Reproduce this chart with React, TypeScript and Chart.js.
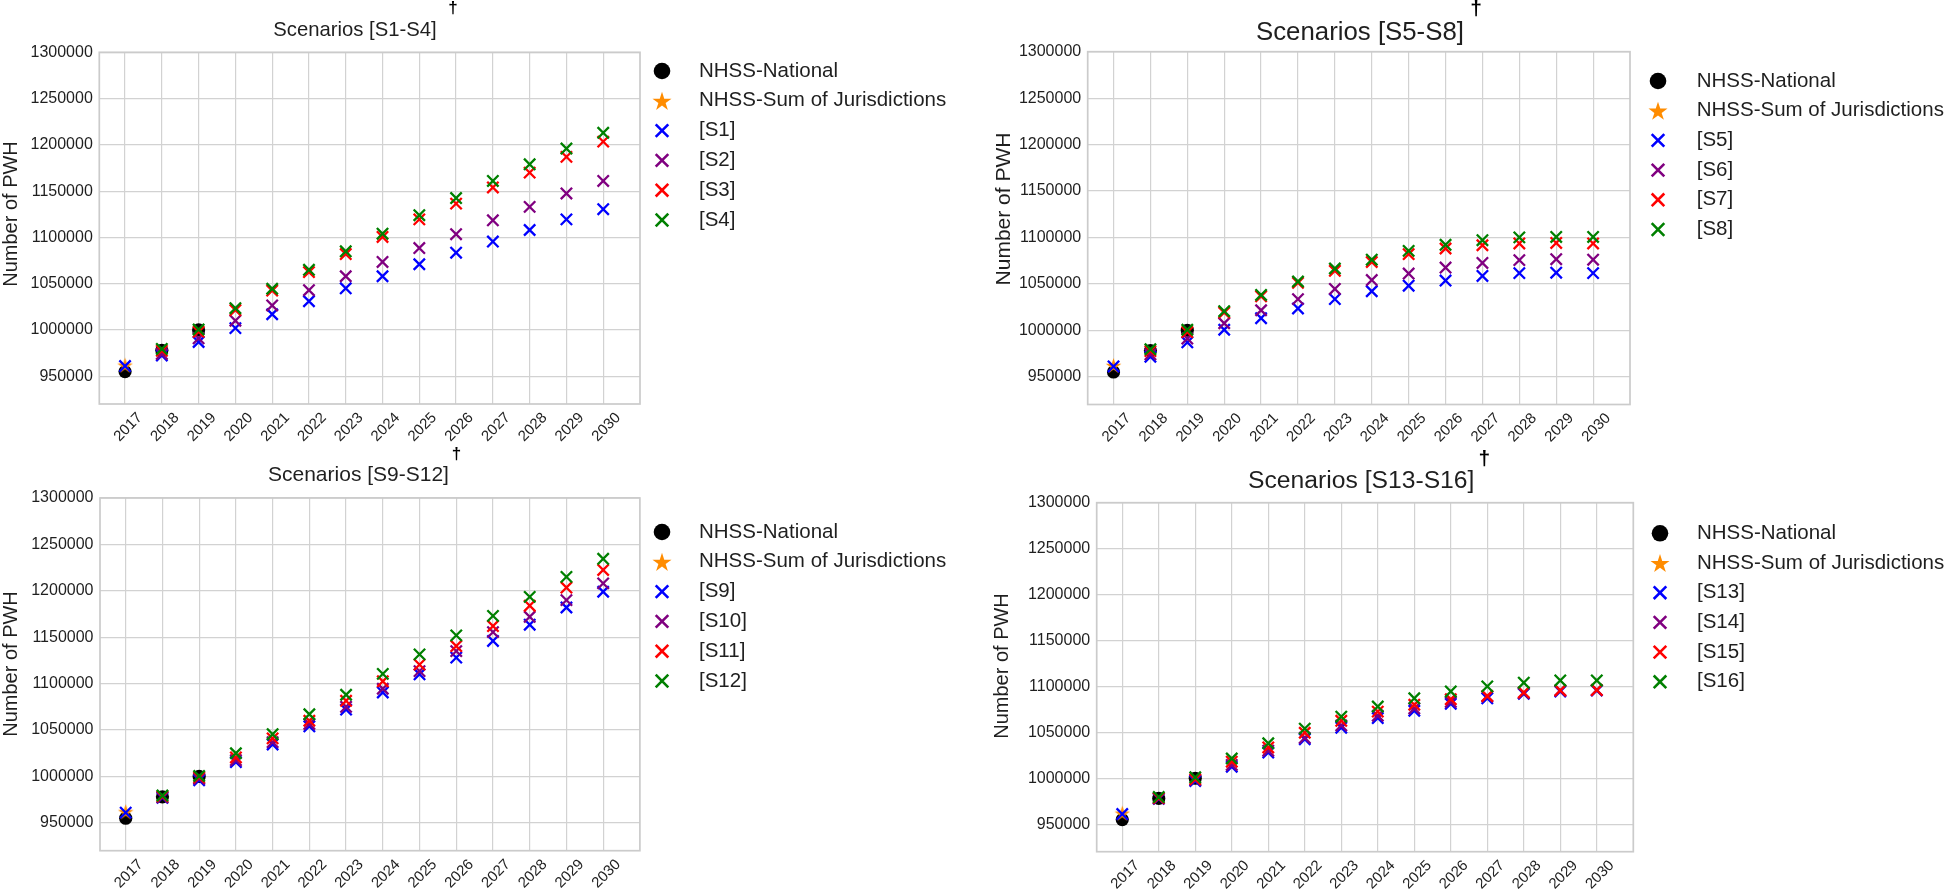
import React, { useEffect, useRef } from 'react';
import { Chart, registerables } from 'chart.js';

Chart.register(...registerables);

// ---------- data ----------
const YEARS = [2017, 2018, 2019, 2020, 2021, 2022, 2023, 2024, 2025, 2026, 2027, 2028, 2029, 2030];
const Y_TICKS = [950000, 1000000, 1050000, 1100000, 1150000, 1200000, 1250000, 1300000];
const Y_MIN = 920000;
const Y_MAX = 1300000;
const X_MIN = 2016.3;
const X_MAX = 2031;

const NATIONAL_YEARS = [2017, 2018, 2019];
const NATIONAL = [955000, 978000, 1000000];
const SUM_YEARS = [2017];
const SUM_JURIS = [962000];

const PANEL_TITLES = ['Scenarios [S1-S4]', 'Scenarios [S5-S8]', 'Scenarios [S9-S12]', 'Scenarios [S13-S16]'];
const SCENARIO_LABELS = [
  ['[S1]', '[S2]', '[S3]', '[S4]'],
  ['[S5]', '[S6]', '[S7]', '[S8]'],
  ['[S9]', '[S10]', '[S11]', '[S12]'],
  ['[S13]', '[S14]', '[S15]', '[S16]'],
];
const Y_TITLE = 'Number of PWH';
const NATIONAL_LABEL = 'NHSS-National';
const SUM_LABEL = 'NHSS-Sum of Jurisdictions';

const S1 = [961000, 972500, 987000, 1002000, 1017000, 1031000, 1045000, 1058000, 1071000, 1083500, 1095500, 1108000, 1119500, 1130500];
const S2 = [null, 974000, 991000, 1010000, 1026500, 1043000, 1058000, 1073500, 1088500, 1103500, 1118500, 1133000, 1147500, 1161000];
const S3 = [null, 977500, 998000, 1021500, 1042500, 1062500, 1082000, 1100500, 1119500, 1136500, 1154000, 1170000, 1187000, 1203500];
const S4 = [null, 979500, 1000500, 1023500, 1044500, 1065000, 1085000, 1104000, 1124000, 1142500, 1161000, 1179000, 1196000, 1213000];

const S5 = [961000, 971500, 987000, 1000500, 1013000, 1023500, 1033500, 1042000, 1048000, 1053500, 1058500, 1061500, 1062000, 1061500];
const S6 = [null, 974000, 991000, 1007500, 1021500, 1033500, 1044500, 1054000, 1061000, 1067500, 1072500, 1075500, 1076500, 1076000];
const S7 = [null, 977500, 998000, 1019000, 1036500, 1051000, 1064000, 1073500, 1082000, 1088000, 1091500, 1093500, 1094000, 1093500];
const S8 = [null, 979500, 1000500, 1020500, 1038000, 1052500, 1066500, 1076000, 1085500, 1092000, 1097000, 1100000, 1100500, 1100500];

const S9 = [961000, 977000, 996000, 1015500, 1034500, 1054000, 1072000, 1090500, 1110000, 1128000, 1146000, 1163500, 1182000, 1199000];
const S10 = [null, 977500, 997500, 1017500, 1037000, 1056500, 1075000, 1094500, 1113500, 1135000, 1155500, 1172000, 1190000, 1208000];
const S11 = [null, 978500, 999000, 1020500, 1041000, 1060000, 1081500, 1102500, 1120500, 1140500, 1162000, 1184000, 1203500, 1222500];
const S12 = [null, 979500, 1000500, 1025000, 1045500, 1067000, 1088000, 1110500, 1131500, 1152000, 1173000, 1193500, 1215000, 1234500];

const S13 = [961000, 977500, 997000, 1012500, 1028000, 1042500, 1055000, 1065500, 1073500, 1081000, 1087000, 1092000, 1094500, 1095500];
const S14 = [null, 978000, 998000, 1014500, 1030000, 1044000, 1057500, 1068000, 1076000, 1083000, 1089000, 1092500, 1095500, 1096000];
const S15 = [null, 978500, 999000, 1018000, 1033500, 1049500, 1062500, 1072500, 1080000, 1086000, 1089500, 1093500, 1095500, 1096000];
const S16 = [null, 979500, 1001000, 1021500, 1038000, 1054000, 1067000, 1078000, 1087000, 1094500, 1100000, 1104000, 1106500, 1106500];

const PANEL_SERIES = [
  [S1, S2, S3, S4],
  [S5, S6, S7, S8],
  [S9, S10, S11, S12],
  [S13, S14, S15, S16],
];

// ---------- styles / layout ----------
const W = 1944;
const H = 893;
const FONT = '"Liberation Sans", Arial, Helvetica, sans-serif';
const TEXT = '#1f1f1f';
const GRID = '#d2d2d2';
const BORDER = '#cbcbcb';
const SCEN_COLORS = ['#0000ff', '#800080', '#ff0000', '#008000'];
const ORANGE = '#ff8c00';
const YW = 80;
const XH = 50;

const LAYOUT = [
  {
    plot: { left: 99.3, top: 52.3, right: 640, bottom: 404 },
    title: { x: 273.3, y: 35.7, size: 20.3 },
    dagger: { x: 453, y: 14.5, size: 17 },
    ytitle: { x: 11, y: 214, size: 20 },
    legend: { mx: 662, tx: 699, y: 71, dy: 29.8 },
  },
  {
    plot: { left: 1087.7, top: 51.7, right: 1630, bottom: 404.5 },
    title: { x: 1256, y: 40, size: 25.8 },
    dagger: { x: 1476, y: 17.5, size: 21 },
    ytitle: { x: 1004, y: 209, size: 21 },
    legend: { mx: 1658, tx: 1696.7, y: 81, dy: 29.7 },
  },
  {
    plot: { left: 100, top: 498, right: 639.9, bottom: 850.7 },
    title: { x: 268, y: 480.7, size: 21 },
    dagger: { x: 456.6, y: 461, size: 17 },
    ytitle: { x: 11, y: 664, size: 20 },
    legend: { mx: 662, tx: 699, y: 532, dy: 29.8 },
  },
  {
    plot: { left: 1096.7, top: 502.7, right: 1633.3, bottom: 851.7 },
    title: { x: 1248, y: 488.3, size: 24.7 },
    dagger: { x: 1484.3, y: 467, size: 21 },
    ytitle: { x: 1002.5, y: 666, size: 20 },
    legend: { mx: 1660, tx: 1697, y: 533.3, dy: 29.7 },
  },
];

function starPath(ctx: CanvasRenderingContext2D, cx: number, cy: number, R: number) {
  const r = R * 0.382;
  ctx.beginPath();
  for (let i = 0; i < 10; i++) {
    const a = -Math.PI / 2 + (i * Math.PI) / 5;
    const rr = i % 2 === 0 ? R : r;
    const px = cx + Math.cos(a) * rr;
    const py = cy + Math.sin(a) * rr;
    if (i === 0) ctx.moveTo(px, py);
    else ctx.lineTo(px, py);
  }
  ctx.closePath();
}

function makeStar(R: number, color: string): HTMLCanvasElement {
  const c = document.createElement('canvas');
  const s = Math.ceil(2 * R + 2);
  c.width = s;
  c.height = s;
  const ctx = c.getContext('2d')!;
  starPath(ctx, s / 2, s / 2 + R * 0.1, R);
  ctx.fillStyle = color;
  ctx.fill();
  return c;
}

function toPoints(xs: number[], ys: (number | null)[]) {
  const out: { x: number; y: number }[] = [];
  xs.forEach((x, i) => {
    const y = ys[i];
    if (y !== null && y !== undefined) out.push({ x, y });
  });
  return out;
}

function Panel({ idx }: { idx: number }) {
  const ref = useRef<HTMLCanvasElement | null>(null);
  useEffect(() => {
    const canvas = ref.current;
    if (!canvas) return;
    const L = LAYOUT[idx];
    const star = makeStar(8.2, ORANGE);
    const series = PANEL_SERIES[idx];
    const labels = SCENARIO_LABELS[idx];

    const datasets: any[] = [
      {
        label: NATIONAL_LABEL,
        data: toPoints(NATIONAL_YEARS, NATIONAL),
        pointStyle: 'circle',
        pointRadius: 6.6,
        backgroundColor: '#000000',
        borderColor: '#000000',
        borderWidth: 0,
        order: 10,
      },
      {
        label: SUM_LABEL,
        data: toPoints(SUM_YEARS, SUM_JURIS),
        pointStyle: star,
        pointRadius: 8,
        backgroundColor: ORANGE,
        borderColor: ORANGE,
        order: 9,
      },
      ...series.map((s, i) => ({
        label: labels[i],
        data: toPoints(YEARS, s),
        pointStyle: 'crossRot',
        pointRadius: 8,
        borderWidth: 2.3,
        borderColor: SCEN_COLORS[i],
        backgroundColor: SCEN_COLORS[i],
        order: 8 - i,
      })),
    ];

    const deco = {
      id: 'deco',
      beforeDatasetsDraw(chart: any) {
        const { ctx, chartArea } = chart;
        ctx.save();
        ctx.strokeStyle = BORDER;
        ctx.lineWidth = 1.7;
        ctx.strokeRect(chartArea.left, chartArea.top, chartArea.right - chartArea.left, chartArea.bottom - chartArea.top);
        ctx.restore();
      },
      afterDraw(chart: any) {
        const ctx: CanvasRenderingContext2D = chart.ctx;
        ctx.save();
        ctx.fillStyle = TEXT;
        // title
        ctx.font = `${L.title.size}px ${FONT}`;
        ctx.textAlign = 'left';
        ctx.textBaseline = 'alphabetic';
        ctx.fillText(PANEL_TITLES[idx], L.title.x, L.title.y);
        // dagger
        ctx.fillStyle = '#000000';
        ctx.font = `bold ${L.dagger.size}px ${FONT}`;
        ctx.textAlign = 'center';
        ctx.fillText('\u2020', L.dagger.x, L.dagger.y - L.dagger.size * 0.1);
        ctx.fillStyle = TEXT;
        // y title
        ctx.save();
        ctx.translate(L.ytitle.x, L.ytitle.y);
        ctx.rotate(-Math.PI / 2);
        ctx.font = `${L.ytitle.size}px ${FONT}`;
        ctx.textAlign = 'center';
        ctx.textBaseline = 'middle';
        ctx.fillText(Y_TITLE, 0, 0);
        ctx.restore();
        // legend
        const items = [
          { label: NATIONAL_LABEL, kind: 'circle', color: '#000000' },
          { label: SUM_LABEL, kind: 'star', color: ORANGE },
          ...labels.map((l, i) => ({ label: l, kind: 'x', color: SCEN_COLORS[i] })),
        ];
        items.forEach((it, i) => {
          const y = L.legend.y + i * L.legend.dy;
          const x = L.legend.mx;
          if (it.kind === 'circle') {
            ctx.beginPath();
            ctx.arc(x, y, 8.3, 0, Math.PI * 2);
            ctx.fillStyle = it.color;
            ctx.fill();
          } else if (it.kind === 'star') {
            starPath(ctx, x, y + 1, 10);
            ctx.fillStyle = it.color;
            ctx.fill();
          } else {
            const d = 6.3;
            ctx.beginPath();
            ctx.moveTo(x - d, y - d);
            ctx.lineTo(x + d, y + d);
            ctx.moveTo(x + d, y - d);
            ctx.lineTo(x - d, y + d);
            ctx.strokeStyle = it.color;
            ctx.lineWidth = 2.6;
            ctx.stroke();
          }
          ctx.fillStyle = TEXT;
          ctx.font = `20.5px ${FONT}`;
          ctx.textAlign = 'left';
          ctx.textBaseline = 'middle';
          ctx.fillText(it.label, L.legend.tx, y);
        });
        ctx.restore();
      },
    };

    const chart = new Chart(canvas, {
      type: 'scatter',
      data: { datasets },
      options: {
        animation: false,
        responsive: false,
        events: [],
        layout: {
          padding: {
            left: L.plot.left - YW,
            top: L.plot.top,
            right: W - L.plot.right,
            bottom: H - L.plot.bottom - XH,
          },
        },
        plugins: {
          legend: { display: false },
          title: { display: false },
          tooltip: { enabled: false },
        },
        scales: {
          x: {
            type: 'linear',
            min: X_MIN,
            max: X_MAX,
            afterBuildTicks: (axis: any) => {
              axis.ticks = YEARS.map((v) => ({ value: v }));
            },
            afterFit: (s: any) => {
              s.height = XH;
            },
            grid: { color: GRID, lineWidth: 1.2, drawTicks: false },
            border: { display: false },
            ticks: {
              autoSkip: false,
              minRotation: 45,
              maxRotation: 45,
              labelOffset: 15,
              padding: 5,
              color: TEXT,
              font: { family: FONT, size: 15 },
              callback: (v: any) => String(v),
            },
          },
          y: {
            type: 'linear',
            min: Y_MIN,
            max: Y_MAX,
            afterBuildTicks: (axis: any) => {
              axis.ticks = Y_TICKS.map((v) => ({ value: v }));
            },
            afterFit: (s: any) => {
              s.width = YW;
            },
            grid: { color: GRID, lineWidth: 1.2, drawTicks: false },
            border: { display: false },
            ticks: {
              padding: 6.5,
              color: TEXT,
              font: { family: FONT, size: 16 },
              callback: (v: any) => String(v),
            },
          },
        },
      },
      plugins: [deco],
    } as any);
    return () => chart.destroy();
  }, [idx]);
  return (
    <canvas
      ref={ref}
      width={W}
      height={H}
      style={{ position: 'absolute', left: 0, top: 0, width: W, height: H }}
    />
  );
}

export default function App() {
  return (
    <div style={{ position: 'absolute', left: 0, top: 0, width: W, height: H, background: '#ffffff', overflow: 'hidden' }}>
      {[0, 1, 2, 3].map((i) => (
        <Panel key={i} idx={i} />
      ))}
    </div>
  );
}
